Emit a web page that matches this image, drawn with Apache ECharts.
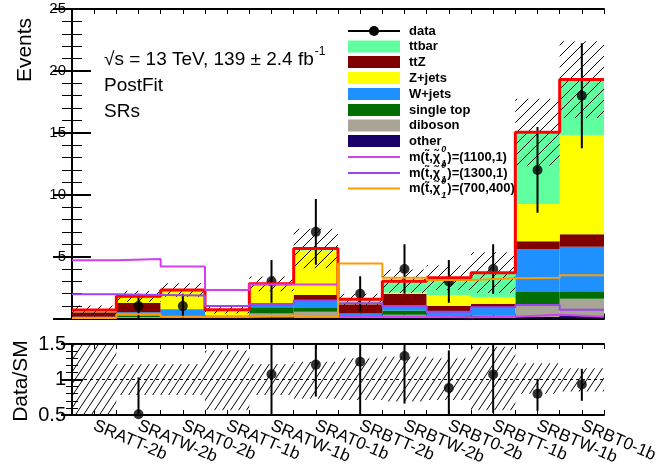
<!DOCTYPE html>
<html>
<head>
<meta charset="utf-8">
<script src="https://cdn.jsdelivr.net/npm/echarts@6/dist/echarts.min.js"></script>
<style>
  html, body { margin: 0; padding: 0; background: #fff; }
  #chart { width: 668px; height: 469px; }
</style>
</head>
<body>
<div id="chart"></div>
<script>
// ---- data ----
const regions = ['SRATT-2b', 'SRATW-2b', 'SRAT0-2b', 'SRATT-1b', 'SRATW-1b', 'SRAT0-1b',
                 'SRBTT-2b', 'SRBTW-2b', 'SRBT0-2b', 'SRBTT-1b', 'SRBTW-1b', 'SRBT0-1b']

// backgrounds, bottom of the stack first
const other     = [0.03, 0.05, 0.05, 0.05, 0.10, 0.05, 0.05, 0.05, 0.05, 0.05, 0.15, 0.2]
const diboson   = [0.03, 0.08, 0.05, 0.05, 0.30, 0.50, 0.05, 0.25, 0.05, 0.05, 1.00, 1.4]
const singleTop = [0.04, 0.12, 0.10, 0.05, 0.50, 0.30, 0.05, 0.35, 0.10, 0.15, 1.00, 0.6]
const wjets     = [0.05, 0.25, 0.50, 0.05, 0.15, 0.60, 0.25, 0.30, 0.35, 0.60, 3.45, 3.6]
const ttZ       = [0.35, 0.75, 0.05, 0.05, 0.20, 0.45, 0.75, 1.05, 0.45, 0.35, 0.65, 1.0]
const zjets     = [0.12, 0.40, 1.45, 0.40, 1.45, 3.60, 0.15, 0.10, 0.90, 0.50, 3.00, 8.0]
const ttbar     = [0.07, 0.15, 0.10, 0.05, 0.10, 0.15, 0.25, 0.90, 1.40, 2.00, 5.80, 4.5]
const bkgUnc    = [0.35, 0.45, 0.55, 0.30, 0.60, 1.60, 0.45, 0.95, 1.00, 1.65, 2.70, 3.1]

const sig1100 = [4.7, 4.8, 4.2, 2.3, 2.75, 2.75, 0.15, 0.15, 0.1, 0.15, 0.3, 0.15]
const sig1300 = [1.95, 1.9, 1.85, 1.0, 1.17, 1.45, 1.23, 1.0, 0.55, 0.9, 1.1, 0.7]
const sig700  = [0.05, 0.35, 0.15, 0.15, 0.25, 0.15, 4.45, 3.3, 3.1, 3.25, 3.3, 3.5]

const dataVal = [null, 1, 1, null, 3, 7, 2, 4, 3, 4, 12, 18]
const dataErr = [null, 1, 1, null, 1.73, 2.65, 1.41, 2, 1.73, 2, 3.46, 4.24]

const ratioVal = [null, 0.51, null, null, 1.075, 1.21, 1.25, 1.33, 0.88, 1.07, 0.8, 0.93]
const ratioLo  = [null, 0.3, null, null, 0.3, 0.76, 0.3, 0.66, 0.35, 0.53, 0.56, 0.7]
const ratioHi  = [null, 1.03, null, null, 1.7, 1.7, 1.7, 1.7, 1.41, 1.7, 1.01, 1.15]
const bandLo   = [0.3, 0.78, 0.78, 0.57, 0.78, 0.73, 0.71, 0.69, 0.71, 0.57, 0.8, 0.83]
const bandHi   = [1.7, 1.22, 1.22, 1.41, 1.22, 1.25, 1.3, 1.32, 1.3, 1.46, 1.23, 1.16]

const colors = {
  ttbar: '#60ffa0', ttZ: '#800000', zjets: '#ffff00', wjets: '#1e90ff',
  singleTop: '#006e00', diboson: '#a8a596', other: '#1a0066',
  s1100: '#d43ef2', s1300: '#9a45f0', s700: '#ff9a00'
}

const FONT = '"Liberation Sans", Arial, Helvetica, sans-serif'

// ---- helpers ----
function hatch(w, h, lw) {
  const c = document.createElement('canvas')
  c.width = w
  c.height = h
  const g = c.getContext('2d')
  g.strokeStyle = '#000'
  g.lineWidth = lw
  g.beginPath()
  for (const dx of [-w, 0, w]) {
    g.moveTo(dx, h)
    g.lineTo(dx + w, 0)
  }
  g.stroke()
  return c
}
const hatchTop = hatch(11, 11, 1)
const hatchBot = hatch(8, 12, 1)

function steps(vals) {
  const pts = vals.map((v, i) => [i, v])
  pts.push([vals.length, vals[vals.length - 1]])
  return pts
}

function rectSeries(name, fill, lo, hi, grid) {
  return {
    type: 'custom',
    name,
    xAxisIndex: grid * 2,
    yAxisIndex: grid * 2,
    clip: true,
    silent: true,
    data: lo.map((l, i) => [i, l, hi[i]]),
    encode: { x: 0, y: [1, 2] },
    renderItem: (params, api) => {
      const i = api.value(0)
      const p0 = api.coord([i, api.value(1)])
      const p1 = api.coord([i + 1, api.value(2)])
      return {
        type: 'rect',
        shape: { x: p0[0], y: p1[1], width: p1[0] - p0[0], height: p0[1] - p1[1] },
        style: { fill }
      }
    }
  }
}

function errSeries(vals, lo, hi, grid) {
  const d = []
  vals.forEach((v, i) => { if (v !== null) d.push([i + 0.5, lo[i], hi[i]]) })
  return {
    type: 'custom',
    xAxisIndex: grid * 2,
    yAxisIndex: grid * 2,
    clip: true,
    silent: true,
    data: d,
    encode: { x: 0, y: [1, 2] },
    renderItem: (params, api) => {
      const a = api.coord([api.value(0), api.value(1)])
      const b = api.coord([api.value(0), api.value(2)])
      return {
        type: 'line',
        shape: { x1: a[0], y1: a[1], x2: b[0], y2: b[1] },
        style: { stroke: '#000', lineWidth: 2 }
      }
    }
  }
}

function stepLine(vals, color, width) {
  return {
    type: 'line',
    xAxisIndex: 0,
    yAxisIndex: 0,
    step: 'end',
    symbol: 'none',
    silent: true,
    data: steps(vals),
    lineStyle: { color, width }
  }
}

// ---- build the stack ----
const stackOrder = [
  ['other', other], ['diboson', diboson], ['single top', singleTop], ['W+jets', wjets],
  ['ttZ', ttZ], ['Z+jets', zjets], ['ttbar', ttbar]
]
const stackColor = [colors.other, colors.diboson, colors.singleTop, colors.wjets,
                    colors.ttZ, colors.zjets, colors.ttbar]
let cum = regions.map(() => 0)
const stackSeries = stackOrder.map(([name, vals], k) => {
  const lo = cum.slice()
  cum = cum.map((c, i) => c + vals[i])
  return rectSeries(name, stackColor[k], lo, cum.slice(), 0)
})
const total = cum
const uncLo = total.map((t, i) => Math.max(0, t - bkgUnc[i]))
const uncHi = total.map((t, i) => t + bkgUnc[i])
const dataLo = dataVal.map((v, i) => v === null ? null : v - dataErr[i])
const dataHi = dataVal.map((v, i) => v === null ? null : v + dataErr[i])

// ---- axes ----
const axisLineStyle = { lineStyle: { color: '#000', width: 2 } }
function xAx(grid, pos, labels) {
  return {
    type: 'value', gridIndex: grid, position: pos, min: 0, max: 12, interval: 0.5,
    axisLine: { show: true, onZero: false, ...axisLineStyle },
    axisTick: { show: true, inside: true, length: 5, lineStyle: { color: '#000', width: 1 } },
    splitLine: { show: false },
    axisLabel: labels ? {
      show: true, rotate: -23, margin: 10, fontSize: 17, fontFamily: FONT, color: '#000',
      formatter: v => (Math.abs(v % 1 - 0.5) < 1e-6 ? regions[Math.floor(v)] : '')
    } : { show: false }
  }
}
function yAx(grid, pos, min, max, major, minorLen, labels, fs) {
  return {
    type: 'value', gridIndex: grid, position: pos, min, max, interval: (max - min) / (grid === 0 ? 5 : 2),
    axisLine: { show: true, ...axisLineStyle },
    axisTick: { show: true, inside: true, length: major, lineStyle: { color: '#000', width: 2 } },
    minorTick: { show: true, splitNumber: 5, length: minorLen, lineStyle: { color: '#000', width: 1 } },
    splitLine: { show: false },
    minorSplitLine: { show: false },
    axisLabel: labels ? {
      show: true, fontSize: fs, fontFamily: FONT, color: '#000', margin: 6,
      formatter: v => (grid === 0 && v === 0 ? '' : String(v))
    } : { show: false }
  }
}

// ---- legend and texts ----
const mctx = document.createElement('canvas').getContext('2d')
function tw(str, font) { mctx.font = font; return mctx.measureText(str).width }

const legFont = 'bold 13px ' + FONT
const legX0 = 348, legX1 = 400, legTX = 409
const legRows = [
  ['data', 'data'],
  ['box', 'ttbar', colors.ttbar], ['box', 'ttZ', colors.ttZ], ['box', 'Z+jets', colors.zjets],
  ['box', 'W+jets', colors.wjets], ['box', 'single top', colors.singleTop],
  ['box', 'diboson', colors.diboson], ['box', 'other', colors.other],
  ['sig', '(1100,1)', colors.s1100, '0'], ['sig', '(1300,1)', colors.s1300, '0'],
  ['sig', '(700,400)', colors.s700, '0']
]
const legY = [31, 46.5, 62, 78, 94, 110, 125.5, 141, 157, 173, 188.5]
const graphics = []
legRows.forEach((row, k) => {
  const y = legY[k]
  const [kind, label, col] = row
  if (kind === 'data') {
    graphics.push({ type: 'line', shape: { x1: legX0, y1: y, x2: legX1, y2: y }, style: { stroke: '#000', lineWidth: 2 } })
    graphics.push({ type: 'circle', shape: { cx: (legX0 + legX1) / 2, cy: y, r: 5 }, style: { fill: '#000' } })
  } else if (kind === 'box') {
    graphics.push({ type: 'rect', shape: { x: legX0, y: y - 6, width: legX1 - legX0, height: 12 }, style: { fill: col } })
  } else {
    graphics.push({ type: 'line', shape: { x1: legX0, y1: y, x2: legX1, y2: y }, style: { stroke: col, lineWidth: 2 } })
  }
  if (kind !== 'sig') {
    graphics.push({ type: 'text', style: { text: label, x: legTX, y, font: legFont, fill: '#000', verticalAlign: 'middle' } })
  } else {
    const head = 'm(t\u0303,\u03c7\u0303'
    const w = tw(head, legFont) + 1
    const small = 'bold italic 9px ' + FONT
    graphics.push({ type: 'text', style: { text: head, x: legTX, y, font: legFont, fill: '#000', verticalAlign: 'middle' } })
    graphics.push({ type: 'text', style: { text: row[3], x: legTX + w, y: y - 7, font: small, fill: '#000', verticalAlign: 'middle' } })
    graphics.push({ type: 'text', style: { text: '1', x: legTX + w, y: y + 7, font: small, fill: '#000', verticalAlign: 'middle' } })
    graphics.push({ type: 'text', style: { text: ')=' + label, x: legTX + w + tw('0', small) + 1, y, font: legFont, fill: '#000', verticalAlign: 'middle' } })
  }
})

const lumiFont = '19px ' + FONT
const lumiText = '\u221as = 13 TeV, 139 \u00b1 2.4 fb'
graphics.push({ type: 'text', style: { text: lumiText, x: 104, y: 60, font: lumiFont, fill: '#000', verticalAlign: 'middle' } })
graphics.push({ type: 'text', style: { text: '-1', x: 104 + tw(lumiText, lumiFont) + 1, y: 52, font: '12px ' + FONT, fill: '#000', verticalAlign: 'middle' } })
graphics.push({ type: 'text', style: { text: 'PostFit', x: 104, y: 86, font: lumiFont, fill: '#000', verticalAlign: 'middle' } })
graphics.push({ type: 'text', style: { text: 'SRs', x: 104, y: 112, font: lumiFont, fill: '#000', verticalAlign: 'middle' } })
graphics.push({ type: 'text', x: 25, y: 50, rotation: Math.PI / 2, style: { text: 'Events', x: 0, y: 0, font: '21px ' + FONT, fill: '#000', align: 'center', verticalAlign: 'middle' } })
graphics.push({ type: 'text', x: 21, y: 381, rotation: Math.PI / 2, style: { text: 'Data/SM', x: 0, y: 0, font: '21px ' + FONT, fill: '#000', align: 'center', verticalAlign: 'middle' } })

// ---- chart ----
const chart = echarts.init(document.getElementById('chart'), null, { renderer: 'canvas' })
chart.setOption({
  animation: false,
  backgroundColor: '#fff',
  grid: [
    { left: 72, top: 9, width: 532, height: 309.5 },
    { left: 72, top: 344, width: 532, height: 71 }
  ],
  xAxis: [xAx(0, 'bottom', false), xAx(0, 'top', false), xAx(1, 'bottom', true), xAx(1, 'top', false)],
  yAxis: [
    yAx(0, 'left', 0, 25, 19, 10, true, 15), yAx(0, 'right', 0, 25, 19, 10, false, 15),
    yAx(1, 'left', 0.5, 1.5, 11, 6, true, 20), yAx(1, 'right', 0.5, 1.5, 11, 6, false, 20)
  ],
  graphic: graphics,
  series: [
    ...stackSeries,
    rectSeries('unc', { image: hatchTop, repeat: 'repeat' }, uncLo, uncHi, 0),
    stepLine(total, '#ff0000', 3),
    stepLine(sig1100, colors.s1100, 2),
    stepLine(sig1300, colors.s1300, 2),
    stepLine(sig700, colors.s700, 2),
    errSeries(dataVal, dataLo, dataHi, 0),
    {
      type: 'scatter', xAxisIndex: 0, yAxisIndex: 0, symbolSize: 10, silent: true,
      itemStyle: { color: '#000' },
      data: dataVal.map((v, i) => v === null ? null : [i + 0.5, v]).filter(p => p)
    },
    // ratio panel
    rectSeries('band', { image: hatchBot, repeat: 'repeat' }, bandLo, bandHi, 1),
    {
      type: 'line', xAxisIndex: 2, yAxisIndex: 2, symbol: 'none', silent: true,
      data: [[0, 1], [12, 1]],
      lineStyle: { color: '#000', width: 1, type: [3, 3] }
    },
    errSeries(ratioVal, ratioLo, ratioHi, 1),
    {
      type: 'scatter', xAxisIndex: 2, yAxisIndex: 2, symbolSize: 10, silent: true, clip: false,
      itemStyle: { color: '#000' },
      data: ratioVal.map((v, i) => v === null ? null : [i + 0.5, v]).filter(p => p)
    }
  ]
})
</script>
</body>
</html>
